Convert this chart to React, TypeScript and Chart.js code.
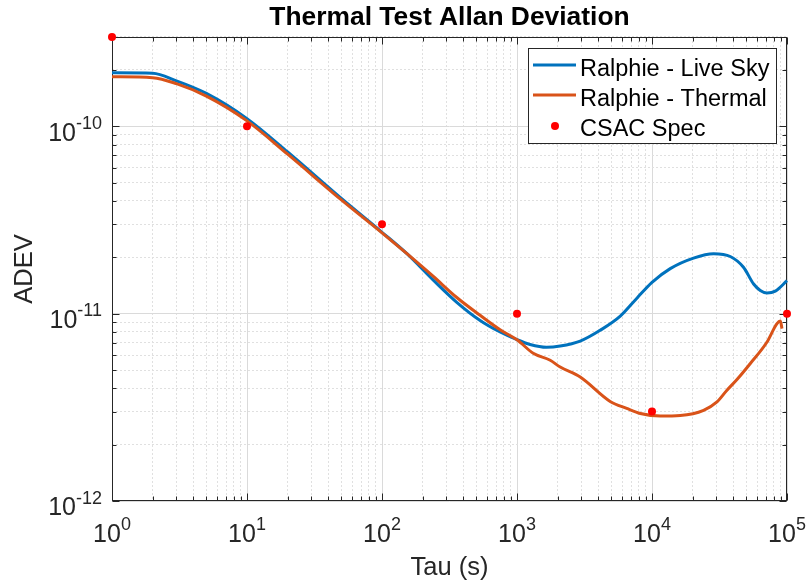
import React, { useEffect, useRef } from 'react';
import { Chart, registerables } from 'chart.js';

Chart.register(...registerables);

// ---------- data ----------
const TITLE = 'Thermal Test Allan Deviation';
const X_LABEL = 'Tau (s)';
const Y_LABEL = 'ADEV';
const SERIES_NAMES = ['Ralphie - Live Sky', 'Ralphie - Thermal', 'CSAC Spec'];

const X_MIN = 1;
const X_MAX = 1e5;
const Y_MIN = 1e-12;
const Y_MAX = 3e-10;
const X_DECADES = [0, 1, 2, 3, 4, 5];
const Y_DECADES = [-12, -11, -10];
const MINOR_MULTIPLIERS = [1, 2, 3, 4, 5, 6, 7, 8, 9];

const LIVE_TAU = [1, 2, 3, 5, 10, 20, 50, 100, 153, 240, 358, 533, 750, 1000, 1250, 1650, 2090, 2940, 4130, 5820, 7730, 10000, 13650, 20300, 28600, 38000, 47600, 56600, 63400, 71100, 81900, 100000];
const LIVE_ADEV = [1.93e-10, 1.92e-10, 1.75e-10, 1.5e-10, 1.1e-10, 7.3e-11, 4.12e-11, 2.72e-11, 2.09e-11, 1.51e-11, 1.15e-11, 9.2e-12, 7.98e-12, 7.26e-12, 6.85e-12, 6.62e-12, 6.72e-12, 7.14e-12, 8.15e-12, 9.7e-12, 1.21e-11, 1.47e-11, 1.74e-11, 1.98e-11, 2.09e-11, 2.02e-11, 1.77e-11, 1.44e-11, 1.33e-11, 1.29e-11, 1.32e-11, 1.5e-11];

const THERMAL_TAU = [1, 2, 3, 5, 10, 20, 50, 100, 153, 240, 358, 533, 750, 1000, 1318, 1762, 2090, 2940, 4900, 6500, 8200, 11500, 16200, 24100, 30300, 35900, 42600, 53500, 71100, 84300, 89300, 91800];
const THERMAL_ADEV = [1.84e-10, 1.82e-10, 1.69e-10, 1.45e-10, 1.07e-10, 7.1e-11, 4.05e-11, 2.7e-11, 2.09e-11, 1.58e-11, 1.22e-11, 9.8e-12, 8.2e-12, 7.26e-12, 6.15e-12, 5.64e-12, 5.19e-12, 4.59e-12, 3.4e-12, 3.12e-12, 2.93e-12, 2.84e-12, 2.86e-12, 3.05e-12, 3.38e-12, 3.9e-12, 4.45e-12, 5.42e-12, 7.06e-12, 8.85e-12, 9.13e-12, 8.32e-12];

const SPEC_TAU = [1, 10, 100, 1000, 10000, 100000];
const SPEC_ADEV = [3e-10, 1e-10, 3e-11, 1e-11, 3e-12, 1e-11];

// ---------- style ----------
const FONT = '"Liberation Sans", Arial, Helvetica, sans-serif';
const AXIS_COLOR = '#262626';
const MAJOR_GRID = '#dadada';
const MINOR_GRID = '#e0e0e0';
const BLUE = '#0072BD';
const ORANGE = '#D95319';
const RED = '#FF0000';
const TICK_FONT = 25;
const SUP_FONT = 18;

const isDecade = (v: number) => {
  const e = Math.log10(v);
  return Math.abs(e - Math.round(e)) < 1e-6;
};

const buildTicks = (decades: number[], min: number, max: number) => {
  const out: number[] = [];
  decades.forEach((e) => {
    MINOR_MULTIPLIERS.forEach((m) => {
      const v = m * Math.pow(10, e);
      if (v >= min * (1 - 1e-9) && v <= max * (1 + 1e-9)) out.push(v);
    });
  });
  return out;
};

const X_TICKS = buildTicks(X_DECADES, X_MIN, X_MAX);
const Y_TICKS = buildTicks(Y_DECADES, Y_MIN, Y_MAX);

const toPoints = (xs: number[], ys: number[]) => xs.map((x, i) => ({ x, y: ys[i] }));

function drawPow(ctx: CanvasRenderingContext2D, base: string, exp: string, x: number, y: number, align: 'center' | 'right') {
  ctx.font = `${TICK_FONT}px ${FONT}`;
  const w1 = ctx.measureText(base).width;
  ctx.font = `${SUP_FONT}px ${FONT}`;
  const w2 = ctx.measureText(exp).width;
  const total = w1 + w2;
  const x0 = align === 'center' ? x - total / 2 : x - total;
  ctx.textAlign = 'left';
  ctx.textBaseline = 'alphabetic';
  ctx.font = `${TICK_FONT}px ${FONT}`;
  ctx.fillText(base, x0, y);
  ctx.font = `${SUP_FONT}px ${FONT}`;
  ctx.fillText(exp, x0 + w1, y - 11.7);
}

const framePlugin = {
  id: 'matlabFrame',
  beforeDatasetsDraw(chart: any) {
    const { ctx, chartArea: a, scales } = chart;
    const xs = scales.x;
    const ys = scales.y;
    ctx.save();
    ctx.strokeStyle = AXIS_COLOR;
    ctx.lineWidth = 1;
    const L = Math.round(a.left) + 0.5;
    const R = Math.round(a.right) - 0.5;
    const T = Math.round(a.top) + 0.5;
    const B = Math.round(a.bottom) - 0.5;
    ctx.strokeRect(L, T, R - L, B - T);
    ctx.beginPath();
    X_TICKS.forEach((v) => {
      const px = Math.round(xs.getPixelForValue(v)) + 0.5;
      const len = isDecade(v) ? 7 : 4;
      ctx.moveTo(px, B);
      ctx.lineTo(px, B - len);
      ctx.moveTo(px, T);
      ctx.lineTo(px, T + len);
    });
    Y_TICKS.forEach((v) => {
      const py = Math.round(ys.getPixelForValue(v)) + 0.5;
      const len = isDecade(v) ? 7 : 4;
      ctx.moveTo(L, py);
      ctx.lineTo(L + len, py);
      ctx.moveTo(R, py);
      ctx.lineTo(R - len, py);
    });
    ctx.stroke();

    ctx.fillStyle = AXIS_COLOR;
    X_DECADES.forEach((e) => {
      const px = xs.getPixelForValue(Math.pow(10, e));
      drawPow(ctx, '10', String(e), px, a.bottom + 40.7, 'center');
    });
    Y_DECADES.forEach((e) => {
      const py = ys.getPixelForValue(Math.pow(10, e));
      drawPow(ctx, '10', String(e), a.left - 10, py + 14.3, 'right');
    });
    ctx.restore();
  },
};

const legendPlugin = {
  id: 'matlabLegend',
  afterDraw(chart: any) {
    const { ctx, chartArea: a } = chart;
    const datasets = chart.data.datasets;
    ctx.save();
    ctx.font = `23.5px ${FONT}`;
    const tw = Math.max(...datasets.map((d: any) => ctx.measureText(d.label).width));
    const w = Math.round(52 + tw + 7);
    const h = 95;
    const left = Math.round(a.right - 11 - w);
    const top = Math.round(a.top + 11);
    ctx.fillStyle = '#ffffff';
    ctx.fillRect(left, top, w, h);
    ctx.strokeStyle = AXIS_COLOR;
    ctx.lineWidth = 1;
    ctx.strokeRect(left + 0.5, top + 0.5, w, h);
    datasets.forEach((d: any, i: number) => {
      const cy = top + 17 + 30 * i;
      if (d.showLine === false) {
        ctx.fillStyle = d.backgroundColor;
        ctx.beginPath();
        ctx.arc(left + 27, cy + 1, 4, 0, Math.PI * 2);
        ctx.fill();
      } else {
        ctx.strokeStyle = d.borderColor;
        ctx.lineWidth = 3;
        ctx.beginPath();
        ctx.moveTo(left + 5, cy);
        ctx.lineTo(left + 48, cy);
        ctx.stroke();
      }
      ctx.fillStyle = '#000000';
      ctx.textAlign = 'left';
      ctx.textBaseline = 'alphabetic';
      ctx.fillText(d.label, left + 52, top + 28 + 30 * i);
    });
    ctx.restore();
  },
};

export default function App() {
  const canvasRef = useRef<HTMLCanvasElement | null>(null);

  useEffect(() => {
    document.body.style.margin = '0';
    const canvas = canvasRef.current;
    if (!canvas) return;
    Chart.defaults.font.family = FONT;

    const chart = new Chart(canvas, {
      type: 'line',
      data: {
        datasets: [
          {
            label: SERIES_NAMES[0],
            data: toPoints(LIVE_TAU, LIVE_ADEV),
            borderColor: BLUE,
            backgroundColor: BLUE,
            borderWidth: 3,
            pointRadius: 0,
            cubicInterpolationMode: 'monotone',
            fill: false,
            order: 2,
            clip: false,
          },
          {
            label: SERIES_NAMES[1],
            data: toPoints(THERMAL_TAU, THERMAL_ADEV),
            borderColor: ORANGE,
            backgroundColor: ORANGE,
            borderWidth: 3,
            pointRadius: 0,
            cubicInterpolationMode: 'monotone',
            fill: false,
            order: 1,
            clip: false,
          },
          {
            label: SERIES_NAMES[2],
            data: toPoints(SPEC_TAU, SPEC_ADEV),
            showLine: false,
            borderColor: RED,
            backgroundColor: RED,
            borderWidth: 0,
            pointRadius: 4,
            pointHoverRadius: 4,
            order: 0,
            clip: false,
          },
        ],
      } as any,
      options: {
        animation: false,
        responsive: false,
        maintainAspectRatio: false,
        events: [],
        layout: { padding: { left: 0, right: 22, top: 0, bottom: 2.8 } },
        plugins: {
          legend: { display: false },
          tooltip: { enabled: false },
          title: {
            display: true,
            fullSize: false,
            text: TITLE,
            color: '#000000',
            font: { family: FONT, size: 26.4, weight: 'bold' },
            padding: { top: 1.7, bottom: 3.6 },
          },
        },
        scales: {
          x: {
            type: 'logarithmic',
            min: X_MIN,
            max: X_MAX,
            afterBuildTicks: (scale: any) => {
              scale.ticks = X_TICKS.map((value) => ({ value }));
            },
            ticks: { display: false },
            grid: {
              drawTicks: false,
              lineWidth: 1,
              color: (c: any) => (c.tick && isDecade(c.tick.value) ? MAJOR_GRID : MINOR_GRID),
            },
            border: {
              display: false,
              dash: (c: any) => (c.tick && !isDecade(c.tick.value) ? [2, 2] : []),
            },
            title: {
              display: true,
              text: X_LABEL,
              color: AXIS_COLOR,
              font: { family: FONT, size: 25.5 },
              padding: { top: 51.6, bottom: 0 },
            },
          },
          y: {
            type: 'logarithmic',
            min: Y_MIN,
            max: Y_MAX,
            afterBuildTicks: (scale: any) => {
              scale.ticks = Y_TICKS.map((value) => ({ value }));
            },
            ticks: { display: false },
            grid: {
              drawTicks: false,
              lineWidth: 1,
              color: (c: any) => (c.tick && isDecade(c.tick.value) ? MAJOR_GRID : MINOR_GRID),
            },
            border: {
              display: false,
              dash: (c: any) => (c.tick && !isDecade(c.tick.value) ? [2, 2] : []),
            },
            title: {
              display: true,
              text: Y_LABEL,
              color: AXIS_COLOR,
              font: { family: FONT, size: 25.5 },
              padding: { top: 9.2, bottom: 72.2 },
            },
          },
        },
      } as any,
      plugins: [framePlugin, legendPlugin],
    });

    return () => {
      chart.destroy();
    };
  }, []);

  return (
    <div style={{ position: 'fixed', left: 0, top: 0, width: 809, height: 586, background: '#ffffff' }}>
      <canvas ref={canvasRef} width={809} height={586} />
    </div>
  );
}
